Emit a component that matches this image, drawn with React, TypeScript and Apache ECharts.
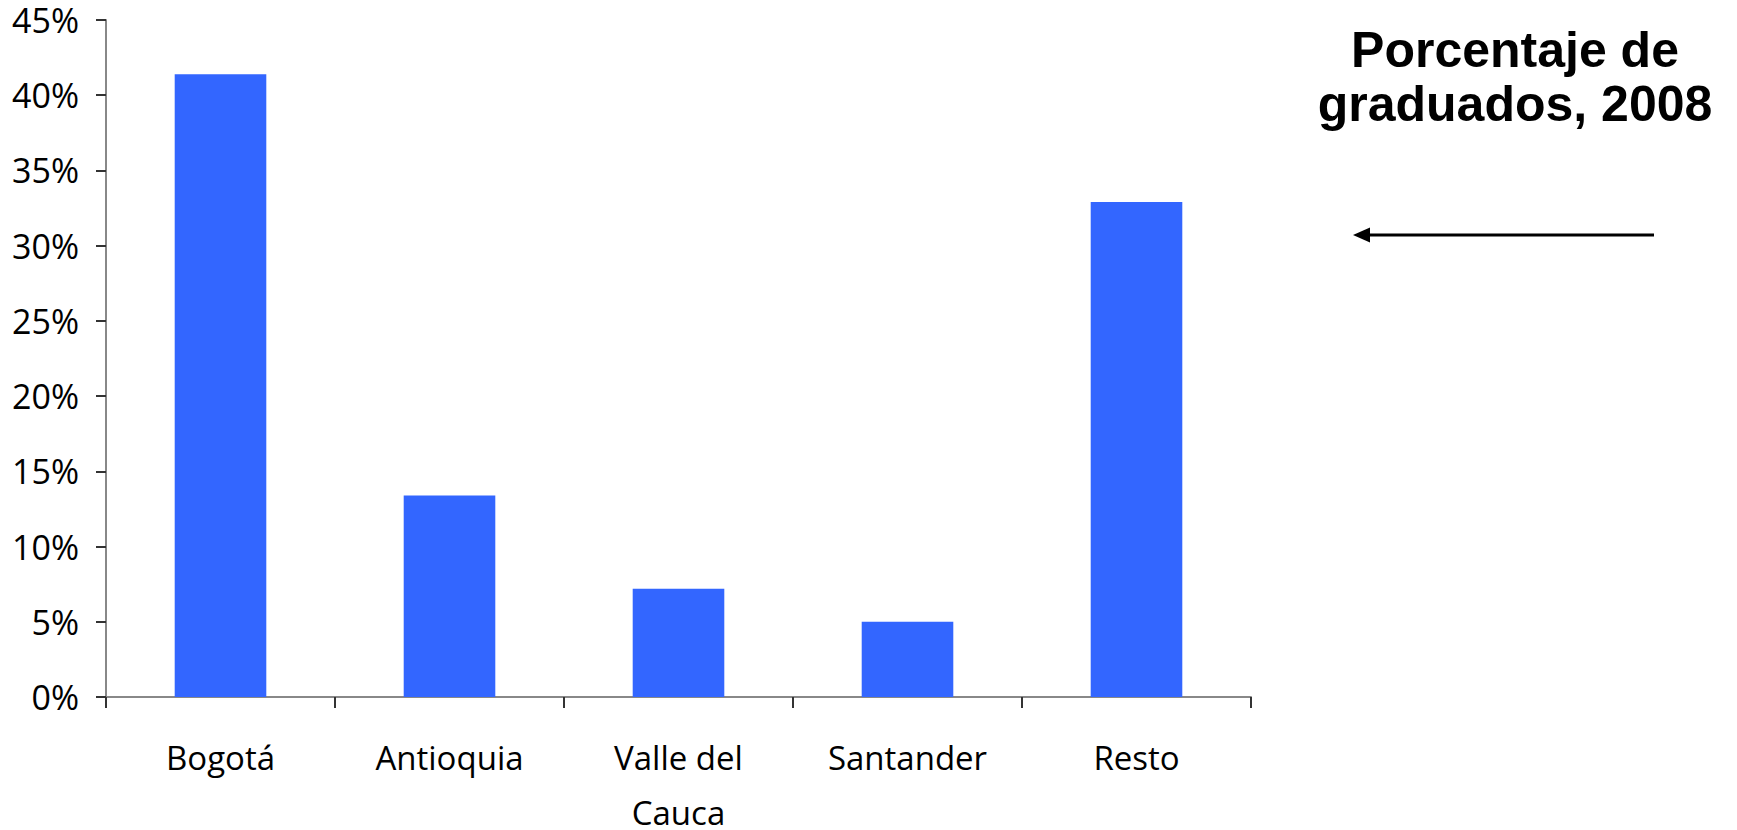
import React, { useEffect, useRef } from "react";
import * as echarts from "echarts";

const categories = ["Bogotá", "Antioquia", "Valle del\nCauca", "Santander", "Resto"];
const values = [41.4, 13.4, 7.2, 5.0, 32.9];
const titleLines = ["Porcentaje de", "graduados, 2008"];

export default function App() {
  const ref = useRef<HTMLDivElement>(null);
  useEffect(() => {
    if (!ref.current) return;
    const chart = echarts.init(ref.current, null, { renderer: "svg" });
    chart.setOption({
      animation: false,
      grid: { left: 106, right: 486, top: 20, bottom: 133, containLabel: false, outerBoundsMode: "none" },
      xAxis: {
        type: "category",
        data: categories,
        axisLine: { lineStyle: { color: "#888888", width: 2 } },
        axisTick: { show: true, length: 11, lineStyle: { color: "#333333", width: 2 }, alignWithLabel: false },
        axisLabel: {
          color: "#000",
          fontFamily: "Open Sans",
          fontSize: 33,
          lineHeight: 55,
          margin: 33,
          interval: 0,
        },
      },
      yAxis: {
        type: "value",
        min: 0,
        max: 45,
        interval: 5,
        splitLine: { show: false },
        axisLine: { show: true, lineStyle: { color: "#888888", width: 2 } },
        axisTick: { show: true, length: 10, lineStyle: { color: "#333333", width: 2 } },
        axisLabel: {
          color: "#000",
          fontFamily: "Open Sans",
          fontSize: 34,
          margin: 27,
          formatter: "{value}%",
        },
      },
      series: [
        {
          type: "bar",
          data: values,
          barWidth: "40%",
          itemStyle: { color: "#3366FF" },
        },
      ],
      graphic: [
        {
          type: "text",
          x: 1515,
          y: 23,
          style: {
            text: titleLines.join("\n"),
            fontFamily: "Liberation Sans",
            fontWeight: "bold",
            fontSize: 50,
            lineHeight: 54,
            fill: "#000",
            align: "center",
            verticalAlign: "top",
          },
        },
        {
          type: "line",
          shape: { x1: 1366, y1: 235, x2: 1654, y2: 235 },
          style: { stroke: "#000", lineWidth: 3 },
        },
        {
          type: "polygon",
          shape: { points: [[1353, 235], [1370, 227.5], [1370, 242.5]] },
          style: { fill: "#000" },
        },
      ],
    });
    return () => chart.dispose();
  }, []);
  return (
    <div
      ref={ref}
      style={{ position: "fixed", left: 0, top: 0, width: 1737, height: 830, background: "#fff" }}
    />
  );
}
